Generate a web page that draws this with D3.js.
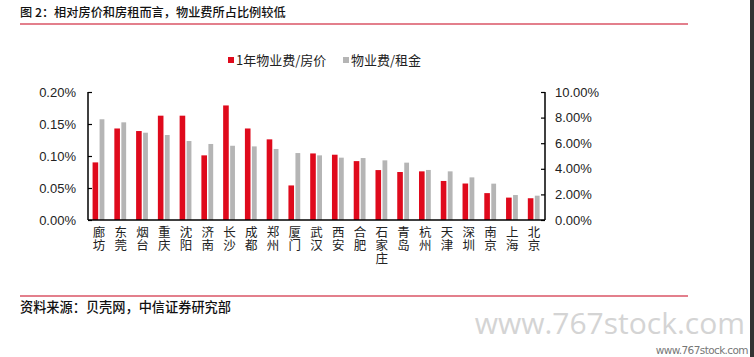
<!DOCTYPE html>
<html><head><meta charset="utf-8">
<script src="https://cdn.jsdelivr.net/npm/d3@7/dist/d3.min.js"></script>
<style>
body{margin:0;background:#fff;}
svg{display:block;font-family:"Liberation Sans","Noto Sans CJK SC",sans-serif;}
</style></head>
<body>
<script>
const cats = ["廊坊","东莞","烟台","重庆","沈阳","济南","长沙","成都","郑州","厦门","武汉","西安","合肥","石家庄","青岛","杭州","天津","深圳","南京","上海","北京"];
const feePrice = [0.090,0.143,0.139,0.163,0.163,0.101,0.179,0.143,0.126,0.054,0.104,0.102,0.092,0.078,0.075,0.076,0.061,0.057,0.042,0.035,0.034];
const feeRent = [7.87,7.63,6.82,6.64,6.17,5.94,5.80,5.75,5.55,5.23,5.05,4.87,4.84,4.66,4.48,3.91,3.80,3.33,2.84,1.95,1.90];
const leftTicks = [0,0.05,0.10,0.15,0.20];
const rightTicks = [0,2,4,6,8,10];
const seriesNames = ["1年物业费/房价","物业费/租金"];
const colors = ["#df0a1c","#b5b5b5"];

const W=754,H=357;
const svg=d3.select("body").append("svg").attr("width",W).attr("height",H);
const m={l:88,r:545,t:92,b:220};
const x=d3.scaleBand().domain(cats).range([m.l,m.r]).padding(0);
const yL=d3.scaleLinear().domain([0,0.20]).range([m.b,m.t]);
const yR=d3.scaleLinear().domain([0,10]).range([m.b,m.t]);

// title
svg.append("text").attr("x",20).attr("y",17).attr("font-size",12.2).attr("fill","#111")
  .attr("font-family","Noto Sans CJK SC").attr("font-weight",500).text("图 2：相对房价和房租而言，物业费所占比例较低");
svg.append("line").attr("x1",20).attr("x2",688).attr("y1",24).attr("y2",24).attr("stroke","#c8001a").attr("stroke-width",1.2);

// legend
const lg=svg.append("g");
[[228,236],[343,351]].forEach((p,i)=>{
  lg.append("rect").attr("x",p[0]).attr("y",57).attr("width",6).attr("height",6).attr("fill",colors[i]);
  lg.append("text").attr("x",p[1]).attr("y",65).attr("font-family","Noto Sans CJK SC").attr("font-size",13).attr("fill","#222").text(seriesNames[i]);
});

// bars
const bw=5.6;
svg.append("g").selectAll("rect").data(cats).join("rect")
  .attr("x",d=>x(d)+x.bandwidth()/2-bw-0.7).attr("width",bw)
  .attr("y",(d,i)=>yL(feePrice[i])).attr("height",(d,i)=>yL(0)-yL(feePrice[i])).attr("fill",colors[0]);
svg.append("g").selectAll("rect").data(cats).join("rect")
  .attr("x",d=>x(d)+x.bandwidth()/2+0.7).attr("width",bw-0.8)
  .attr("y",(d,i)=>yR(feeRent[i])).attr("height",(d,i)=>yR(0)-yR(feeRent[i])).attr("fill",colors[1]);

// axes
const axL=svg.append("g").attr("transform",`translate(${m.l},0)`)
  .call(d3.axisLeft(yL).tickValues(leftTicks).tickSize(-4).tickPadding(12).tickFormat(d=>d.toFixed(2)+"%"));
const axR=svg.append("g").attr("transform",`translate(${m.r},0)`)
  .call(d3.axisRight(yR).tickValues(rightTicks).tickSize(-4).tickPadding(10).tickFormat(d=>d.toFixed(2)+"%"));
[axL,axR].forEach(a=>{
  a.select(".domain").attr("stroke","#000").attr("stroke-width",1.5).attr("d",`M0,${m.t}V${m.b}`);
  a.selectAll(".tick line").attr("stroke","#000").attr("stroke-width",1.2);
  a.selectAll(".tick text").attr("font-size",13).attr("fill","#222").attr("font-family","Liberation Sans");
});
svg.append("line").attr("x1",m.l).attr("x2",m.r).attr("y1",m.b).attr("y2",m.b).attr("stroke","#000").attr("stroke-width",1.5);

// x labels (vertical, upright characters)
svg.append("g").selectAll("text").data(cats).join("text")
  .attr("x",d=>x(d)+x.bandwidth()/2).attr("y",226)
  .style("writing-mode","vertical-rl").style("text-orientation","upright")
  .attr("font-size",12.5).attr("fill","#222").attr("font-family","Noto Sans CJK SC")
  .attr("letter-spacing",0.5)
  .text(d=>d);

// source
svg.append("line").attr("x1",20).attr("x2",688).attr("y1",296).attr("y2",296).attr("stroke","#c8001a").attr("stroke-width",1.2);
svg.append("text").attr("x",20).attr("y",312).attr("font-size",13.2).attr("fill","#111")
  .attr("font-family","Noto Sans CJK SC").attr("font-weight",500).text("资料来源：贝壳网，中信证券研究部");

// watermark
svg.append("text").attr("x",745).attr("y",334).attr("text-anchor","end").attr("font-size",30)
  .attr("fill","#d4d4d4").attr("font-family","Open Sans").text("www.767stock.com");
svg.append("text").attr("x",748).attr("y",354).attr("text-anchor","end").attr("font-size",10.5)
  .attr("fill","#777").attr("font-family","DejaVu Sans").attr("letter-spacing",-0.6).text("www.767stock.com");
svg.append("rect").attr("x",750).attr("y",0).attr("width",4).attr("height",H).attr("fill","#333");
</script>
</body></html>
